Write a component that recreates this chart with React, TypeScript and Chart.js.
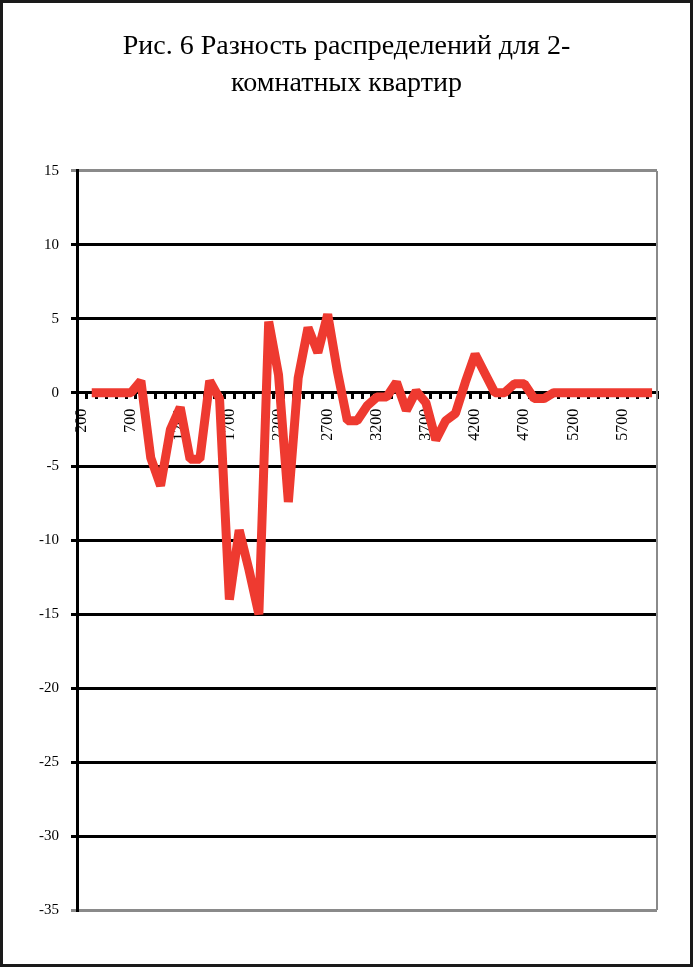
import React, { useEffect, useRef } from "react";
import { Chart, registerables } from "chart.js";

Chart.register(...registerables);

const TITLE_LINES = ["Рис. 6 Разность распределений для 2-", "комнатных квартир"];

const categories = [
  "200", "300", "400", "500", "600", "700", "800", "900", "1000", "1100",
  "1200", "1300", "1400", "1500", "1600", "1700", "1800", "1900", "2000", "2100",
  "2200", "2300", "2400", "2500", "2600", "2700", "2800", "2900", "3000", "3100",
  "3200", "3300", "3400", "3500", "3600", "3700", "3800", "3900", "4000", "4100",
  "4200", "4300", "4400", "4500", "4600", "4700", "4800", "4900", "5000", "5100",
  "5200", "5300", "5400", "5500", "5600", "5700", "5800", "5900", "6000",
];

const shownLabels = ["200", "700", "1200", "1700", "2200", "2700", "3200", "3700", "4200", "4700", "5200", "5700"];

const differenceValues: (number | null)[] = [
  null, 0, 0, 0, 0, 0, 0.8, -4.4, -6.3, -2.5,
  -1.0, -4.5, -4.5, 0.8, -0.4, -14.0, -9.3, -12.0, -15.0, 4.8,
  1.2, -7.4, 1.0, 4.4, 2.7, 5.3, 1.4, -1.9, -1.9, -0.9,
  -0.3, -0.3, 0.7, -1.2, 0.1, -0.7, -3.2, -1.9, -1.4, 0.7,
  2.6, 1.3, 0, 0, 0.6, 0.6, -0.4, -0.4, 0, 0,
  0, 0, 0, 0, 0, 0, 0, 0, 0,
];

const Y_MIN = -35;
const Y_MAX = 15;
const Y_STEP = 5;

const SERIF = "'Liberation Serif', 'DejaVu Serif', serif";

const framePlugin = {
  id: "frame",
  beforeDraw(chart: any) {
    const { ctx, width, height } = chart;
    ctx.save();
    ctx.fillStyle = "#ffffff";
    ctx.fillRect(0, 0, width, height);
    ctx.restore();
  },
  afterDraw(chart: any) {
    const { ctx, width, height, chartArea } = chart;
    ctx.save();
    ctx.strokeStyle = "#8a8a8a";
    ctx.lineWidth = 2;
    ctx.beginPath();
    ctx.moveTo(chartArea.right, chartArea.top);
    ctx.lineTo(chartArea.right, chartArea.bottom);
    ctx.stroke();
    ctx.strokeStyle = "#1a1a1a";
    ctx.lineWidth = 3;
    ctx.strokeRect(1.5, 1.5, width - 3, height - 3);
    ctx.restore();
  },
};

export default function App() {
  const canvasRef = useRef<HTMLCanvasElement | null>(null);

  useEffect(() => {
    document.body.style.margin = "0";
    const canvas = canvasRef.current;
    if (!canvas) return;
    const chart = new Chart(canvas, {
      type: "line",
      data: {
        labels: categories,
        datasets: [
          {
            data: differenceValues,
            borderColor: "#ee3a30",
            backgroundColor: "#ee3a30",
            borderWidth: 9,
            pointRadius: 0,
            pointHoverRadius: 0,
            tension: 0,
            borderJoinStyle: "bevel",
            borderCapStyle: "butt",
            spanGaps: false,
          },
        ],
      },
      options: {
        responsive: false,
        animation: false,
        events: [],
        layout: { padding: { left: 23, right: 23, bottom: 57, top: 0 } },
        plugins: {
          legend: { display: false },
          tooltip: { enabled: false },
          title: {
            display: true,
            text: TITLE_LINES,
            color: "#000000",
            font: { family: SERIF, size: 28, weight: "normal", lineHeight: 1.32 },
            padding: { top: 28, bottom: 69 },
          },
        },
        scales: {
          x: {
            type: "category",
            position: { y: 0 } as any,
            offset: true,
            grid: {
              display: true,
              drawOnChartArea: false,
              drawTicks: true,
              tickLength: 5,
              offset: true,
              color: "#000000",
              lineWidth: 3,
            },
            border: { display: true, color: "#000000", width: 3 },
            ticks: {
              autoSkip: false,
              maxRotation: 90,
              minRotation: 90,
              padding: 11,
              color: "#000000",
              font: { family: SERIF, size: 16 },
              callback: function (this: any, value: any, index: number) {
                const lab = categories[index];
                return shownLabels.includes(lab) ? lab : "";
              },
            },
          },
          y: {
            type: "linear",
            position: "left",
            min: Y_MIN,
            max: Y_MAX,
            afterFit(scale: any) {
              scale.width = 54;
            },
            grid: {
              color: (ctx: any) =>
                ctx.tick && (ctx.tick.value === Y_MAX || ctx.tick.value === Y_MIN) ? "#8a8a8a" : "#000000",
              lineWidth: 3,
              tickLength: 6,
              drawTicks: true,
            },
            border: { display: true, color: "#000000", width: 3 },
            ticks: {
              stepSize: Y_STEP,
              padding: 12,
              color: "#000000",
              font: { family: SERIF, size: 15 },
            },
          },
          yRight: {
            type: "linear",
            position: "right",
            min: Y_MIN,
            max: Y_MAX,
            display: true,
            afterFit(scale: any) {
              scale.width = 13;
            },
            grid: { display: false, drawOnChartArea: false },
            border: { display: false },
            ticks: { display: false },
          },
        },
      },
      plugins: [framePlugin],
    });
    return () => chart.destroy();
  }, []);

  return (
    <div style={{ width: 693, height: 967 }}>
      <canvas ref={canvasRef} width={693} height={967} style={{ display: "block" }} />
    </div>
  );
}
